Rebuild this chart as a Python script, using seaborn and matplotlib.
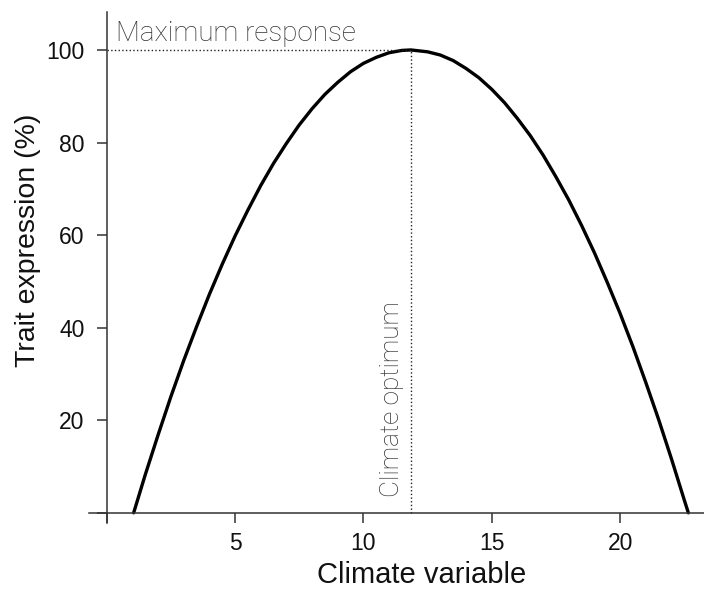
import numpy as np
import pandas as pd
import matplotlib
matplotlib.use("Agg")
import matplotlib.pyplot as plt
import seaborn as sns

# points
climate = [1.05, 1.5, 2.0, 2.5, 3.0, 3.5, 4.0, 4.5, 5.0, 5.5, 6.0, 6.5, 7.0, 7.5,
           8.0, 8.5, 9.0, 9.5, 10.0, 10.5, 11.0, 11.5, 11.85, 12.5, 13.0, 13.5,
           14.0, 14.5, 15.0, 15.5, 16.0, 16.5, 17.0, 17.5, 18.0, 18.5, 19.0,
           19.5, 20.0, 20.5, 21.0, 21.5, 22.0, 22.5, 22.66]
trait = [0, 8.2, 16.8, 25.1, 32.9, 40.2, 47.2, 53.7, 59.8, 65.4, 70.7, 75.5,
         79.8, 83.8, 87.3, 90.4, 93.0, 95.3, 97.1, 98.4, 99.4, 99.9, 100, 99.6,
         98.9, 97.7, 96.0, 94.0, 91.5, 88.6, 85.2, 81.5, 77.3, 72.6, 67.6, 62.1,
         56.2, 49.8, 43.1, 35.9, 28.2, 20.2, 11.7, 2.8, 0]
optimum_x = 11.85
max_y = 100
x_ticks = [0, 5, 10, 15, 20]
x_labels = ['', '5', '10', '15', '20']
y_ticks = [0, 20, 40, 60, 80, 100]
y_labels = ['', '20', '40', '60', '80', '100']

sns.set_style('ticks')
plt.rcParams['font.family'] = ['Liberation Sans', 'DejaVu Sans']

df = pd.DataFrame({'Climate variable': climate, 'Trait expression (%)': trait})

fig = plt.figure(figsize=(7.04, 5.91), dpi=100)
ax = fig.add_axes([89 / 704, 68 / 591, 615 / 704, 511 / 591])

sns.lineplot(data=df, x='Climate variable', y='Trait expression (%)', ax=ax,
             color='black', linewidth=2.4, sort=False)
for l in ax.lines:
    l.set_solid_joinstyle('round')

# guide lines to the optimum
ax.plot([0, optimum_x], [max_y, max_y], color='#222222', linestyle=':', linewidth=1.0)
ax.plot([optimum_x, optimum_x], [0, max_y], color='#222222', linestyle=':', linewidth=1.0)

light = ['Roboto', 'DejaVu Sans']
ax.text(0.35, 101.9, 'Maximum response', fontsize=20, color='#333333',
        family=light, fontweight='light', ha='left', va='baseline')
ax.text(11.6, 3.4, 'Climate optimum', fontsize=18.8, color='#333333', rotation=90,
        family=light, fontweight='light', ha='right', va='bottom')

ax.set_xlim(-0.69, 23.27)
ax.set_ylim(-2.2, 108.2)
ax.spines['left'].set_position(('data', 0))
ax.spines['bottom'].set_position(('data', 0))
ax.spines['top'].set_visible(False)
ax.spines['right'].set_visible(False)
for s in ['left', 'bottom']:
    ax.spines[s].set_color('#333333')
    ax.spines[s].set_linewidth(1.1)

ax.set_xticks(x_ticks)
ax.set_xticklabels(x_labels)
ax.set_yticks(y_ticks)
ax.set_yticklabels(y_labels)
ax.tick_params(axis='both', length=7, width=1.1, color='#333333', labelsize=16.5,
               labelcolor='#111111')
ax.tick_params(axis='x', pad=7)
ax.tick_params(axis='y', pad=9)

ax.set_xlabel('Climate variable', fontsize=21, color='#111111')
ax.set_ylabel('Trait expression (%)', fontsize=20.5, color='#111111')
ax.xaxis.set_label_coords((422 - 89) / 615, -0.075)
ax.yaxis.set_label_coords(-0.078, (523 - 240) / 511)

fig.savefig('out.png', dpi=100)
